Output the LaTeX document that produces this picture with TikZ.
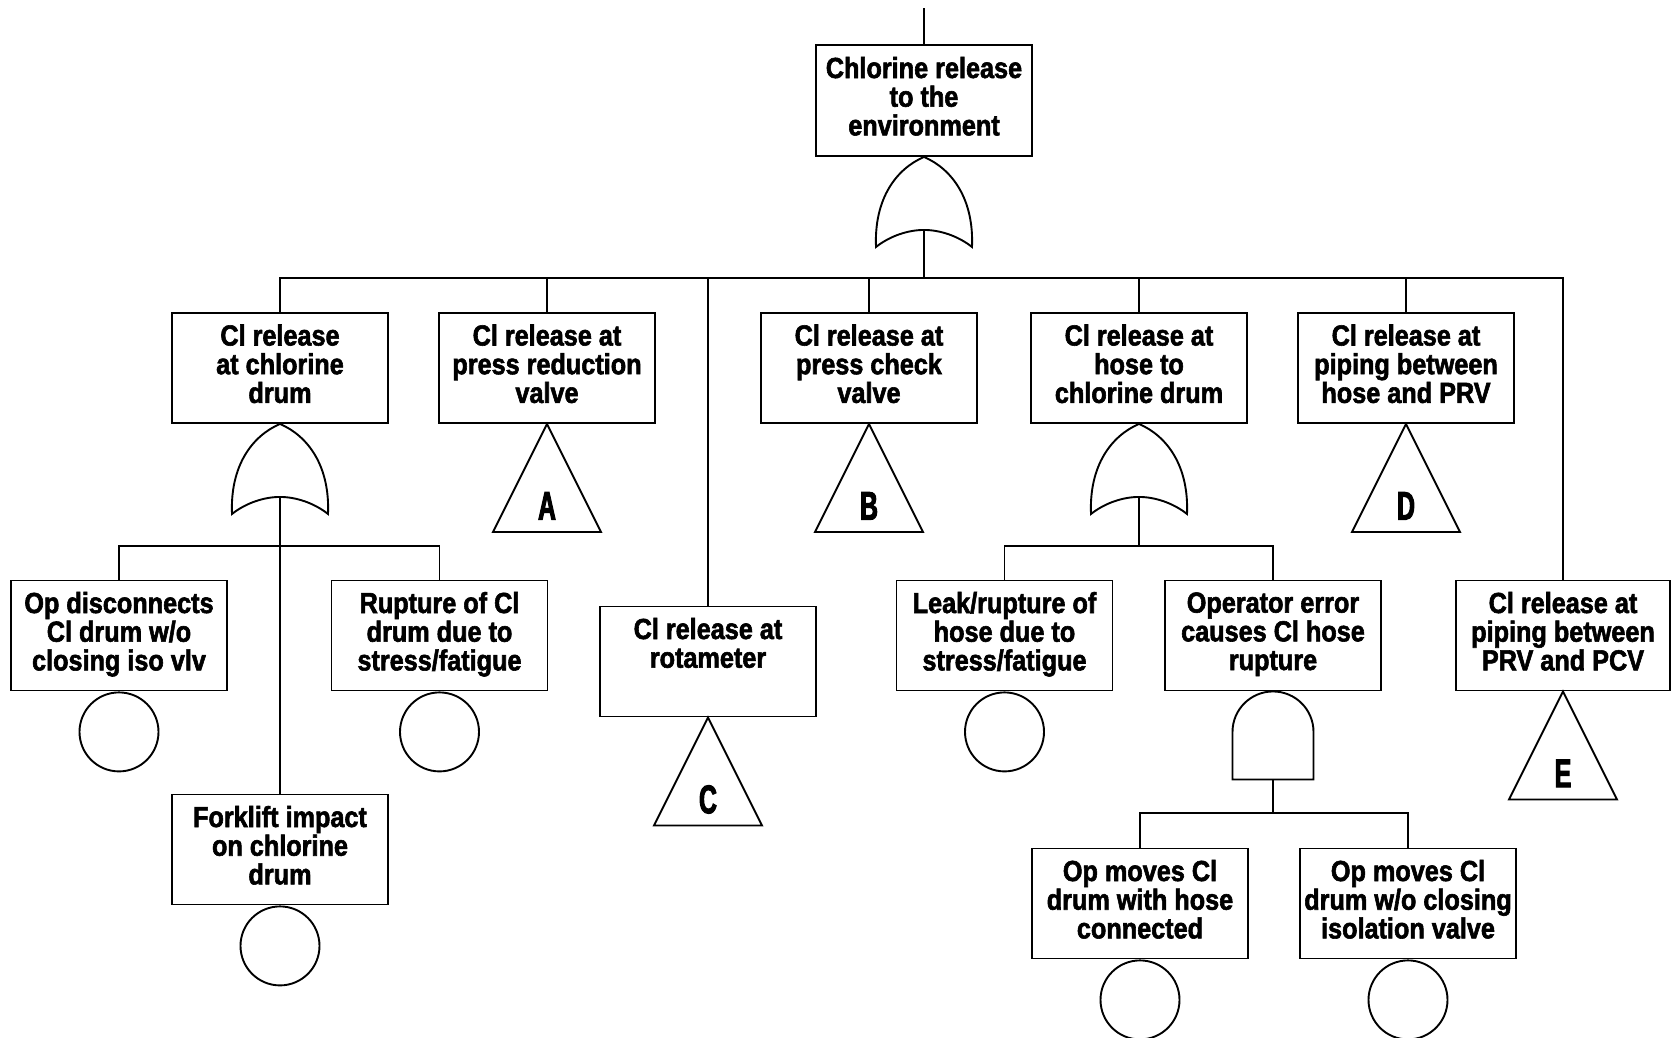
\documentclass[tikz,border=0pt]{standalone}
\usepackage{fontspec}
\newfontfamily\condfont[FakeStretch=0.87,FakeBold=2]{Liberation Sans}
\newfontfamily\lettfont[FakeStretch=0.62,FakeBold=2.5]{Liberation Sans}
\tikzset{
  pics/orgate/.style={code={
    \draw (0,0) .. controls (-28,12) and (-50,42) .. (-48,90)
      .. controls (-34,79) and (-16,73) .. (0,73)
      .. controls (16,73) and (34,79) .. (48,90)
      .. controls (50,42) and (28,12) .. (0,0) -- cycle;
    \coordinate (-out) at (0,73);}},
  pics/andgate/.style={code={
    \draw (-40.5,88) -- (-40.5,40.5) .. controls (-40.5,18.1) and (-22.4,0) .. (0,0)
      .. controls (22.4,0) and (40.5,18.1) .. (40.5,40.5) -- (40.5,88) -- cycle;
    \coordinate (-out) at (0,88);}},
  pics/transfer/.style={code={
    \draw (0,0) -- (-54,108) -- (54,108) -- cycle;
    \node[letter] (-lbl) at (0,82) {#1};}},
}
\begin{document}
\begin{tikzpicture}[x=1pt,y=-1pt,line width=1.9pt,
  evbox/.style={draw, rectangle, minimum width=216pt, minimum height=110pt, inner sep=0pt,
    align=center, font=\condfont\bfseries\fontsize{29}{28.7}\selectfont},
  basic/.style={draw, circle, minimum size=79pt, inner sep=0pt, anchor=north},
  letter/.style={inner sep=0pt, font=\lettfont\bfseries\fontsize{40}{40}\selectfont}]
\fill[white] (0,0) rectangle (1671,1038);
\useasboundingbox (0,0) rectangle (1671,1038);

% top event
\node[evbox, minimum height=111pt] (top) at (924,100.5) {Chlorine release\\to the\\environment\strut};
\coordinate (topin) at (924,8);
\draw (top.north) -- (topin);
\pic (g0) at (top.south) {orgate};
\coordinate (bar0) at (924,278);

% level 2
\node[evbox] (e1) at (280,368) {Cl release\\at chlorine\\drum\strut};
\node[evbox] (e2) at (547,368) {Cl release at\\press reduction\\valve\strut};
\node[evbox] (rot) at (708,661.5) {Cl release at\\rotameter\\\strut};
\node[evbox] (e4) at (869,368) {Cl release at\\press check\\valve\strut};
\node[evbox] (e5) at (1139,368) {Cl release at\\hose to\\chlorine drum\strut};
\node[evbox] (e6) at (1406,368) {Cl release at\\piping between\\hose and PRV\strut};
\node[evbox, minimum width=214pt] (e7) at (1563,635.5) {Cl release at\\piping between\\PRV and PCV\strut};

\draw (g0-out) -- (bar0);
\foreach \n in {e1,e2,rot,e4,e5,e6,e7} \draw (bar0) -| (\n.north);

% transfers
\pic (tA) at (e2.south) {transfer=A};
\pic (tB) at (e4.south) {transfer=B};
\pic (tC) at (rot.south) {transfer=C};
\pic (tD) at (e6.south) {transfer=D};
\pic (tE) at (e7.south) {transfer=E};

% branch under e1
\pic (g1) at (e1.south) {orgate};
\coordinate (bar1) at (280,546);
\node[evbox] (od) at (119,635.5) {Op disconnects\\Cl drum w/o\\closing iso vlv\strut};
\node[evbox] (rup) at (439.5,635.5) {Rupture of Cl\\drum due to\\stress/fatigue\strut};
\node[evbox] (fork) at (280,849.5) {Forklift impact\\on chlorine\\drum\strut};
\draw (g1-out) -- (fork.north);
\draw (bar1) -| (od.north);
\draw (bar1) -| (rup.north);
\node[basic] (cod) at (od.south) {};
\node[basic] (crup) at (rup.south) {};
\node[basic] (cfork) at (fork.south) {};

% branch under e5
\pic (g5) at (e5.south) {orgate};
\coordinate (bar5) at (1139,546);
\node[evbox] (leak) at (1004.5,635.5) {Leak/rupture of\\hose due to\\stress/fatigue\strut};
\node[evbox] (oper) at (1273,635.5) {Operator error\\causes Cl hose\\rupture\strut};
\draw (g5-out) -- (bar5);
\draw (bar5) -| (leak.north);
\draw (bar5) -| (oper.north);
\node[basic] (cleak) at (leak.south) {};

\pic (a6) at (oper.south) {andgate};
\coordinate (bar6) at (1273,813);
\node[evbox] (m1) at (1140,903.5) {Op moves Cl\\drum with hose\\connected\strut};
\node[evbox] (m2) at (1408,903.5) {Op moves Cl\\drum w/o closing\\isolation valve\strut};
\draw (a6-out) -- (bar6);
\draw (bar6) -| (m1.north);
\draw (bar6) -| (m2.north);
\node[basic] (cm1) at (m1.south) {};
\node[basic] (cm2) at (m2.south) {};
\end{tikzpicture}
\end{document}
